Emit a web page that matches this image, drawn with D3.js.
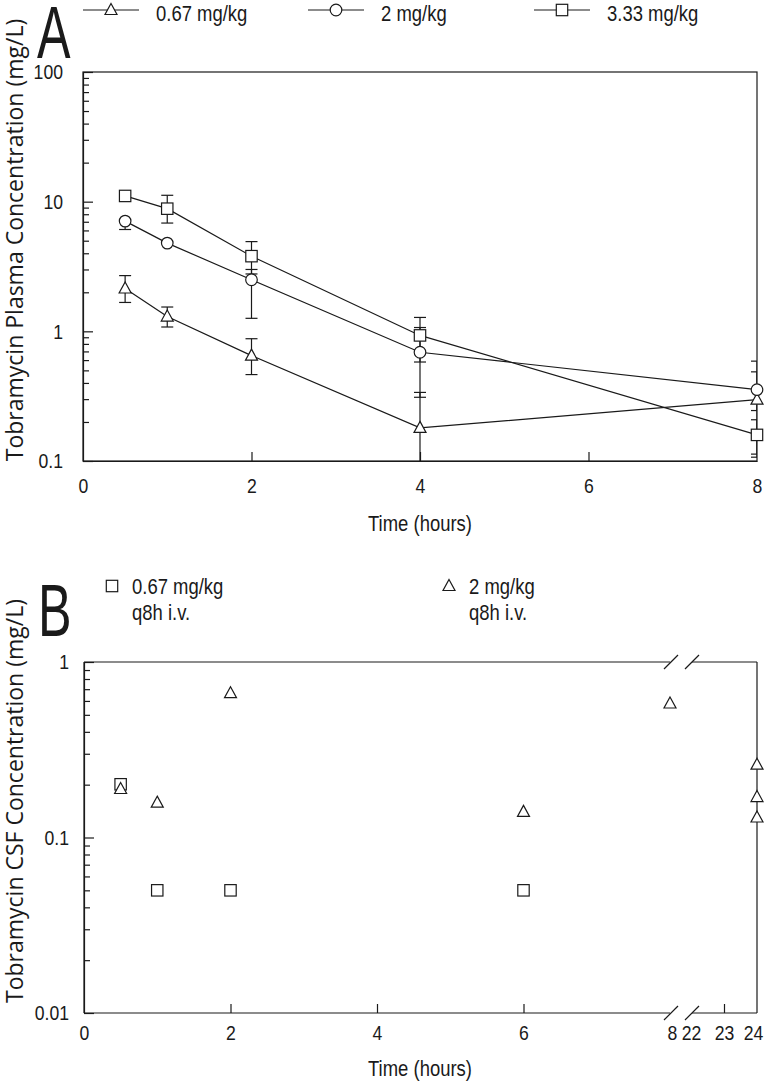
<!DOCTYPE html>
<html><head><meta charset="utf-8">
<script src="https://cdn.jsdelivr.net/npm/d3@7"></script>
<style>
body{margin:0;background:#fff;}
svg{display:block;}
</style></head><body>
<svg id="chart" width="766" height="1081"></svg>
<script>
// ---------- Panel A data (plasma) ----------
const timesA = [0.5, 1, 2, 4, 8];
const dose067 = [2.14, 1.30, 0.65, 0.18, 0.297];
const dose067Lo = [1.67, 1.08, 0.464, 0.02, 0.107];
const dose067Hi = [2.69, 1.54, 0.877, 0.338, 0.487];
const dose2 = [7.08, 4.79, 2.5, 0.69, 0.355];
const dose2Lo = [6.1, null, 1.26, 0.31, 0.245];
const dose2Hi = [null, null, 3.0, 1.07, 0.589];
const dose333 = [11.07, 8.83, 3.8, 0.93, 0.159];
const dose333Lo = [null, 6.84, 2.77, 0.58, 0.113];
const dose333Hi = [null, 11.2, 4.92, 1.28, 0.208];
const legendA = ["0.67 mg/kg", "2 mg/kg", "3.33 mg/kg"];
const xTicksA = [0, 2, 4, 6, 8];
const yTicksA = [0.1, 1, 10, 100];

// ---------- Panel B data (CSF) ----------
const timesB067 = [0.5, 1, 2, 6];
const csf067 = [0.201, 0.050, 0.050, 0.050];
const timesB2 = [0.5, 1, 2, 6, 8, 24, 24, 24];
const csf2 = [0.189, 0.158, 0.664, 0.14, 0.58, 0.26, 0.17, 0.13];
const legendB = [["0.67 mg/kg", "q8h i.v."], ["2 mg/kg", "q8h i.v."]];
const xTicksB = [0, 2, 4, 6, 8, 22, 23, 24];
const yTicksB = [0.01, 0.1, 1];

const INK = "#1a1a1a";
const SANS = "'Liberation Sans', Arial, sans-serif";
const TITLE = "'Open Sans', 'Noto Sans', sans-serif";
const SX = 0.84;

const svg = d3.select("#chart");

function ctext(g, x, y, str, size, anchor, sx) {
  return g.append("text")
    .attr("transform", `translate(${x},${y}) scale(${sx || SX},1)`)
    .attr("text-anchor", anchor || "start")
    .attr("font-family", SANS).attr("font-size", size).attr("fill", INK)
    .text(str);
}
function marker(g, type, x, y, s) {
  s = s || 1;
  if (type === "tri") {
    g.append("path").attr("d", d3.line()([[x, y - 6.5*s], [x + 6*s, y + 4.5*s], [x - 6*s, y + 4.5*s]]) + "Z")
      .attr("fill", "#fff").attr("stroke", INK).attr("stroke-width", 1.2);
  } else if (type === "circ") {
    g.append("circle").attr("cx", x).attr("cy", y).attr("r", 5.8*s)
      .attr("fill", "#fff").attr("stroke", INK).attr("stroke-width", 1.2);
  } else {
    g.append("rect").attr("x", x - 5.7*s).attr("y", y - 5.7*s).attr("width", 11.4*s).attr("height", 11.4*s)
      .attr("fill", "#fff").attr("stroke", INK).attr("stroke-width", 1.2);
  }
}
function minorTicks(lo, hi) {
  const out = [];
  for (let d = lo; d < hi; d *= 10) for (let k = 2; k <= 9; k++) out.push(d * k);
  return out;
}

// ================= PANEL A =================
const xA = d3.scaleLinear().domain([0, 8]).range([83, 757]);
const yA = d3.scaleLog().domain([0.1, 100]).range([461, 72]);
const gA = svg.append("g");

svg.append("clipPath").attr("id", "clipA").append("rect")
  .attr("x", 83).attr("y", 72).attr("width", 674).attr("height", 389);

const ayA = gA.append("g").attr("transform", `translate(${xA(0)},0)`)
  .call(d3.axisLeft(yA).tickValues(yTicksA).tickSizeInner(-10).tickSizeOuter(0).tickPadding(20)
    .tickFormat(d => d >= 1 ? d3.format("d")(d) : String(d)));
ayA.selectAll(".tick text").attr("font-family", SANS).attr("font-size", 21).attr("fill", INK)
  .attr("x", -20 / SX).attr("transform", `scale(${SX},1)`);
gA.append("g").attr("transform", `translate(${xA(0)},0)`)
  .call(d3.axisLeft(yA).tickValues(minorTicks(0.1, 100)).tickSizeInner(-6).tickSizeOuter(0).tickFormat(""))
  .select(".domain").remove();
const axA = gA.append("g").attr("transform", `translate(0,${yA(0.1)})`)
  .call(d3.axisBottom(xA).tickValues(xTicksA).tickSizeInner(-9).tickSizeOuter(0).tickPadding(17));
axA.selectAll(".tick text").attr("font-family", SANS).attr("font-size", 21).attr("fill", INK)
  .attr("transform", `scale(${SX},1)`);
axA.selectAll(".tick line").filter(d => d === 0 || d === 8).remove();
gA.append("rect").attr("x", 83).attr("y", 72).attr("width", 674).attr("height", 389)
  .attr("fill", "none").attr("stroke", INK).attr("stroke-width", 1.2);
svg.selectAll(".domain, .tick line").attr("stroke", INK).attr("stroke-width", 1.2);

const seriesA = [
  {type: "tri", v: dose067, lo: dose067Lo, hi: dose067Hi},
  {type: "circ", v: dose2, lo: dose2Lo, hi: dose2Hi},
  {type: "sq", v: dose333, lo: dose333Lo, hi: dose333Hi}
];
const lineA = d3.line().x(d => xA(d[0])).y(d => yA(d[1]));
const plotA = gA.append("g").attr("clip-path", "url(#clipA)");
seriesA.forEach(s => {
  timesA.forEach((t, i) => {
    const x = xA(t);
    const c = s.v[i];
    const hi = s.hi[i] == null ? c : s.hi[i];
    const lo = s.lo[i] == null ? c : s.lo[i];
    if (hi === c && lo === c) return;
    plotA.append("line").attr("x1", x).attr("x2", x).attr("y1", yA(hi)).attr("y2", yA(Math.max(lo, 0.05)))
      .attr("stroke", INK).attr("stroke-width", 1.2);
    [s.hi[i], s.lo[i]].forEach(e => {
      if (e == null || e < 0.1) return;
      plotA.append("line").attr("x1", x - 6).attr("x2", x + 6).attr("y1", yA(e)).attr("y2", yA(e))
        .attr("stroke", INK).attr("stroke-width", 1.2);
    });
  });
});
seriesA.forEach(s => {
  gA.append("path").datum(timesA.map((t, i) => [t, s.v[i]])).attr("d", lineA)
    .attr("fill", "none").attr("stroke", INK).attr("stroke-width", 1.2);
});
seriesA.forEach(s => timesA.forEach((t, i) => marker(gA, s.type, xA(t), yA(s.v[i]))));

ctext(gA, 420, 531, "Time (hours)", 22, "middle");
gA.append("text").attr("transform", "translate(23,240) rotate(-90)").attr("text-anchor", "middle")
  .attr("font-family", TITLE).attr("font-size", 23).attr("fill", INK)
  .text("Tobramycin Plasma Concentration (mg/L)");
ctext(gA, 37, 58, "A", 74, "start", 0.68);

const legX = [83, 308, 534];
const legTypes = ["tri", "circ", "sq"];
legendA.forEach((lab, i) => {
  gA.append("line").attr("x1", legX[i]).attr("x2", legX[i] + 56).attr("y1", 10).attr("y2", 10)
    .attr("stroke", INK).attr("stroke-width", 1.2);
  marker(gA, legTypes[i], legX[i] + 28, 10);
  ctext(gA, legX[i] + 73, 21, lab, 22);
});

// ================= PANEL B =================
const xB = d3.scaleLinear().domain([0, 8, 22, 24]).range([84, 670, 691, 757]);
const yB = d3.scaleLog().domain([0.01, 1]).range([1013, 662]);
const gB = svg.append("g");

const ayB = gB.append("g").attr("transform", `translate(${xB(0)},0)`)
  .call(d3.axisLeft(yB).tickValues(yTicksB).tickSizeInner(-10).tickSizeOuter(0).tickPadding(15)
    .tickFormat(d => String(d)));
ayB.selectAll(".tick text").attr("font-family", SANS).attr("font-size", 21).attr("fill", INK)
  .attr("x", -15 / SX).attr("transform", `scale(${SX},1)`);
gB.append("g").attr("transform", `translate(${xB(0)},0)`)
  .call(d3.axisLeft(yB).tickValues(minorTicks(0.01, 1)).tickSizeInner(-6).tickSizeOuter(0).tickFormat(""))
  .select(".domain").remove();
const axB = gB.append("g").attr("transform", `translate(0,${yB(0.01)})`)
  .call(d3.axisBottom(xB).tickValues(xTicksB).tickSizeInner(-9).tickSizeOuter(0).tickPadding(12));
axB.select(".domain").remove();
axB.selectAll(".tick text").attr("font-family", SANS).attr("font-size", 21).attr("fill", INK)
  .attr("transform", `scale(${SX},1)`);
axB.selectAll(".tick line").filter(d => [0, 8, 22, 24].includes(d)).remove();
axB.selectAll(".tick").filter(d => d === 8).select("text").attr("x", 2 / SX);
axB.selectAll(".tick").filter(d => d === 24).select("text").attr("x", -4 / SX);
svg.selectAll(".domain, .tick line").attr("stroke", INK).attr("stroke-width", 1.2);

const bT = yB(1), bB = yB(0.01), bL = xB(0), bR = xB(24);
const gapL = 670, gapR = 692;
[bT, bB].forEach(yy => {
  gB.append("line").attr("x1", bL).attr("x2", gapL).attr("y1", yy).attr("y2", yy).attr("stroke", INK).attr("stroke-width", 1.2);
  gB.append("line").attr("x1", gapR).attr("x2", bR).attr("y1", yy).attr("y2", yy).attr("stroke", INK).attr("stroke-width", 1.2);
  [gapL + 1, gapR].forEach(cx => {
    gB.append("line").attr("x1", cx - 7).attr("x2", cx + 7).attr("y1", yy + 7).attr("y2", yy - 7)
      .attr("stroke", INK).attr("stroke-width", 1.2);
  });
});
gB.append("line").attr("x1", bL).attr("x2", bL).attr("y1", bT).attr("y2", bB).attr("stroke", INK).attr("stroke-width", 1.2);
gB.append("line").attr("x1", bR).attr("x2", bR).attr("y1", bT).attr("y2", bB).attr("stroke", INK).attr("stroke-width", 1.2);

timesB067.forEach((t, i) => marker(gB, "sq", xB(t), yB(csf067[i])));
timesB2.forEach((t, i) => marker(gB, "tri", xB(t), yB(csf2[i])));

ctext(gB, 420, 1076, "Time (hours)", 22, "middle");
gB.append("text").attr("transform", "translate(23,801) rotate(-90)").attr("text-anchor", "middle")
  .attr("font-family", TITLE).attr("font-size", 23).attr("fill", INK)
  .text("Tobramycin CSF Concentration (mg/L)");
ctext(gB, 38, 636, "B", 74, "start", 0.68);

const legBX = [112, 449];
const legBTypes = ["sq", "tri"];
legendB.forEach((lines, i) => {
  marker(gB, legBTypes[i], legBX[i], 586);
  ctext(gB, legBX[i] + 20, 594, lines[0], 22);
  ctext(gB, legBX[i] + 20, 620, lines[1], 22);
});
</script>
</body></html>
